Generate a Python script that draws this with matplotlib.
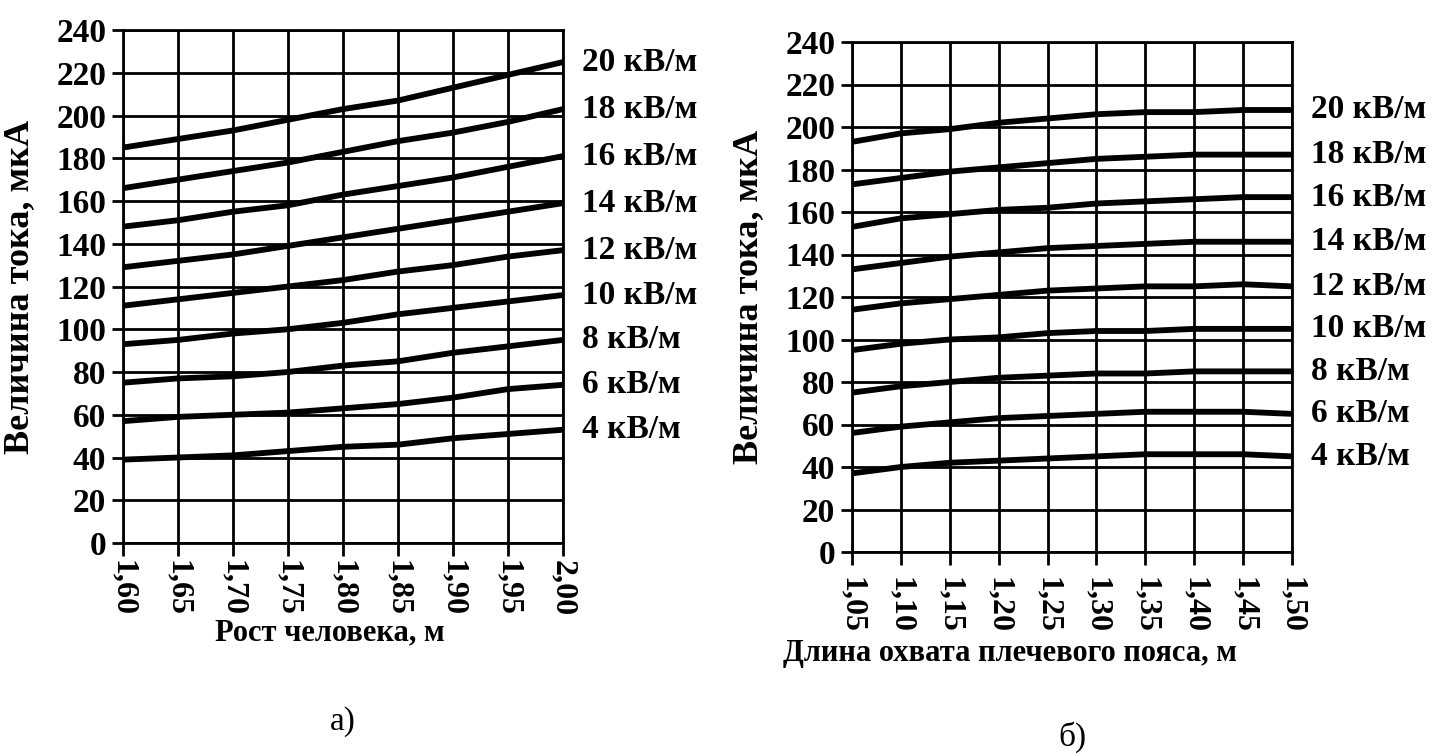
import numpy as np
import matplotlib.pyplot as plt

# field strengths, кВ/м
fields = [20, 18, 16, 14, 12, 10, 8, 6, 4]

# panel a): height of person, m
height = [1.60, 1.65, 1.70, 1.75, 1.80, 1.85, 1.90, 1.95, 2.00]
height_labels = ['1,60', '1,65', '1,70', '1,75', '1,80', '1,85', '1,90', '1,95', '2,00']
current_a = [
    [185, 189, 193, 198, 203, 207, 213, 219, 225],
    [166, 170, 174, 178, 183, 188, 192, 197, 203],
    [148, 151, 155, 158, 163, 167, 171, 176, 181],
    [129, 132, 135, 139, 143, 147, 151, 155, 159],
    [111, 114, 117, 120, 123, 127, 130, 134, 137],
    [93, 95, 98, 100, 103, 107, 110, 113, 116],
    [75, 77, 78, 80, 83, 85, 89, 92, 95],
    [57, 59, 60, 61, 63, 65, 68, 72, 74],
    [39, 40, 41, 43, 45, 46, 49, 51, 53],
]

# panel б): shoulder girth, m
girth = [1.05, 1.10, 1.15, 1.20, 1.25, 1.30, 1.35, 1.40, 1.45, 1.50]
girth_labels = ['1,05', '1,10', '1,15', '1,20', '1,25', '1,30', '1,35', '1,40', '1,45', '1,50']
current_b = [
    [193, 197, 199, 202, 204, 206, 207, 207, 208, 208],
    [173, 176, 179, 181, 183, 185, 186, 187, 187, 187],
    [153, 157, 159, 161, 162, 164, 165, 166, 167, 167],
    [133, 136, 139, 141, 143, 144, 145, 146, 146, 146],
    [114, 117, 119, 121, 123, 124, 125, 125, 126, 125],
    [95, 98, 100, 101, 103, 104, 104, 105, 105, 105],
    [75, 78, 80, 82, 83, 84, 84, 85, 85, 85],
    [56, 59, 61, 63, 64, 65, 66, 66, 66, 65],
    [37, 40, 42, 43, 44, 45, 46, 46, 46, 45],
]

plt.rcParams['font.family'] = ['Liberation Serif', 'DejaVu Serif']

W, H = 1434, 753
fig = plt.figure(figsize=(W / 100, H / 100), dpi=100)


def panel(rect, x, labels, data, xlabel, xlabel_xy, xpad, letter, letter_y):
    ax = fig.add_axes(rect)
    for vals, f in zip(data, fields):
        ax.plot(x, vals, color='black', lw=4.2, solid_capstyle='round')
        ax.text(1.043, vals[-1], f'{f} кВ/м', transform=ax.get_yaxis_transform(),
                va='center', ha='left', fontsize=24, fontweight='bold')
    ax.set_xlim(x[0], x[-1])
    ax.set_ylim(0, 240)
    ax.set_xticks(x)
    ax.set_xticklabels(labels, rotation=-90, fontsize=23, fontweight='bold')
    ax.set_yticks(np.arange(0, 241, 20))
    ax.set_yticklabels([str(v) for v in range(0, 241, 20)], fontsize=24, fontweight='bold')
    ax.grid(True, color='black', lw=2)
    for s in ax.spines.values():
        s.set_linewidth(2)
    ax.tick_params(axis='y', direction='out', length=8, width=2, pad=4)
    ax.tick_params(axis='x', direction='out', length=9, width=2, pad=xpad)
    ax.set_ylabel('Величина тока, мкА', fontsize=26, fontweight='bold', va='center')
    ax.yaxis.set_label_coords(-0.235, 0.5)
    ax.set_xlabel(xlabel, fontsize=22, fontweight='bold', va='center')
    ax.xaxis.set_label_coords(*xlabel_xy)
    fig.text(rect[0] + rect[2] / 2, letter_y, letter, ha='center', va='center', fontsize=24)
    return ax


panel([123 / W, 1 - 543 / H, 440 / W, 513 / H], height, height_labels, current_a,
      'Рост человека, м', (0.47, -0.175), 3, 'а)', 1 - 722 / H)
panel([852 / W, 1 - 552 / H, 440 / W, 510 / H], girth, girth_labels, current_b,
      'Длина охвата плечевого пояса, м', (0.36, -0.2), 9, 'б)', 1 - 737 / H)

fig.savefig('out.png', dpi=100)
